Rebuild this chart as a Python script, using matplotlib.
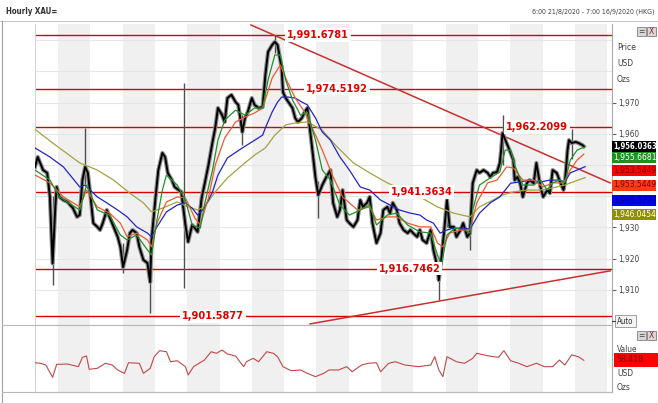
import matplotlib
matplotlib.use('Agg')
import matplotlib.pyplot as plt
from matplotlib.patches import Rectangle
from matplotlib import font_manager as fm
from matplotlib.textpath import TextPath
from matplotlib.font_manager import FontProperties

# ---------------- data (hours since 6:00 21/8/2020, price in USD) ----------------
close_hours = [0, 2, 6, 9, 11, 13, 15, 16, 18, 21, 24, 26, 28, 31, 33, 35, 37, 39, 41, 43, 46, 48, 50,
               53, 55, 58, 61, 63, 65, 68, 70, 72, 75, 77, 80, 83, 85, 86, 89, 91, 94, 96, 98, 101,
               103, 106, 108, 111, 113, 116, 118, 120, 123, 125, 128, 131, 133, 135, 138, 140, 142,
               145, 148, 150, 153, 155, 157, 160, 162, 165, 168, 170, 172, 175, 177, 179, 182, 183,
               185, 187, 190, 192, 194, 197, 199, 201, 204, 207, 209, 212, 215, 218, 220, 223, 225,
               227, 230, 232, 235, 238, 240, 242, 245, 247, 249, 252, 255, 257, 260, 262, 264, 267,
               269, 272, 275, 277, 279, 282, 284, 286, 289, 292, 294, 297, 298, 300, 302, 304, 306,
               309, 311, 314, 316, 319, 321, 323, 326, 328, 331, 334, 336, 338, 341, 343, 344, 345,
               348, 351, 353, 354, 356, 358, 360, 363, 365, 368, 370, 373, 375, 378, 380, 382, 385,
               387, 390, 391, 393, 394, 396, 399, 401, 404, 405]
close_prices = [1949.4, 1952.6, 1948.4, 1947.5, 1939.8, 1918.5, 1936.6, 1943.0, 1939.8, 1938.8, 1938.2,
                1937.2, 1936.2, 1933.4, 1934.0, 1945.2, 1949.4, 1947.5, 1939.8, 1931.4, 1930.2, 1929.2,
                1931.4, 1935.6, 1933.4, 1930.2, 1927.0, 1923.8, 1917.3, 1922.8, 1928.2, 1929.2, 1928.2,
                1923.8, 1919.6, 1918.6, 1912.5, 1926.0, 1939.8, 1948.4, 1953.9, 1952.6, 1947.5, 1945.2,
                1943.0, 1942.0, 1941.4, 1930.8, 1925.4, 1930.8, 1929.8, 1928.6, 1939.5, 1943.6, 1950.0,
                1957.4, 1961.9, 1968.3, 1966.1, 1963.8, 1971.5, 1972.5, 1970.2, 1969.3, 1960.6, 1965.1,
                1967.0, 1971.5, 1969.3, 1968.3, 1968.6, 1978.9, 1986.3, 1988.5, 1989.5, 1988.5, 1981.1,
                1973.4, 1971.5, 1970.2, 1968.3, 1965.1, 1963.8, 1965.1, 1967.0, 1968.3, 1957.4, 1945.9,
                1940.4, 1943.6, 1946.2, 1948.4, 1937.9, 1933.4, 1935.6, 1942.0, 1932.4, 1931.4, 1930.2,
                1932.4, 1938.8, 1936.6, 1937.9, 1939.8, 1931.4, 1925.0, 1928.2, 1935.6, 1936.6, 1934.6,
                1937.9, 1935.6, 1931.4, 1929.2, 1928.2, 1929.2, 1928.2, 1927.0, 1929.2, 1926.0, 1925.0,
                1929.2, 1922.8, 1917.3, 1913.1, 1920.5, 1929.2, 1938.8, 1930.2, 1930.2, 1927.0, 1929.2,
                1931.4, 1927.0, 1928.2, 1944.2, 1948.4, 1947.5, 1948.4, 1947.5, 1946.2, 1947.5, 1947.8,
                1950.7, 1954.8, 1960.3, 1957.1, 1953.9, 1951.6, 1945.2, 1946.2, 1944.2, 1939.8, 1944.2,
                1945.2, 1944.2, 1950.7, 1943.0, 1939.8, 1942.0, 1941.0, 1948.4, 1947.5, 1945.2, 1942.0,
                1944.2, 1954.8, 1958.0, 1957.1, 1957.4, 1957.1, 1956.4, 1956.0]

# isolated long wicks: hour, low, high
wick_hours = [13, 37, 65, 85, 110, 153, 177, 209, 298, 304, 321, 345, 396]
wick_lows = [1911.5, 1944.0, 1915.4, 1902.5, 1910.6, 1956.4, 1986.0, 1933.0, 1906.7, 1930.0, 1922.8, 1950.0, 1952.0]
wick_highs = [1940.0, 1961.9, 1925.0, 1920.0, 1976.3, 1966.0, 1991.7, 1945.0, 1920.0, 1941.0, 1930.0, 1966.0, 1961.5]

green_hours = [0, 11, 18, 33, 38, 46, 55, 63, 68, 75, 83, 86, 90, 94, 97, 105, 111, 116, 122, 125, 131,
               135, 140, 148, 155, 162, 168, 172, 177, 181, 185, 190, 196, 201, 207, 212, 218, 225, 232,
               240, 247, 252, 260, 267, 275, 284, 292, 297, 300, 304, 310, 317, 321, 323, 328, 336, 343,
               347, 351, 354, 360, 368, 373, 378, 382, 387, 391, 395, 400, 405]
green_vals = [1948.4, 1945.2, 1939.8, 1935.6, 1943.6, 1935.6, 1934.0, 1927.6, 1926.0, 1927.6, 1922.8,
              1921.2, 1932.4, 1942.0, 1946.8, 1943.6, 1938.8, 1930.8, 1929.8, 1937.2, 1948.4, 1958.0,
              1964.4, 1967.6, 1966.0, 1968.3, 1968.3, 1977.3, 1985.3, 1985.3, 1977.3, 1970.9, 1966.0,
              1967.0, 1958.0, 1948.4, 1945.2, 1937.2, 1934.0, 1935.6, 1937.2, 1930.8, 1934.0, 1934.6,
              1930.8, 1928.6, 1928.2, 1921.2, 1918.0, 1927.6, 1929.8, 1929.2, 1928.2, 1935.6, 1943.6,
              1945.9, 1947.8, 1954.8, 1954.8, 1950.0, 1943.6, 1943.6, 1945.2, 1942.0, 1944.3, 1945.2,
              1944.3, 1951.6, 1954.8, 1955.7]

orange_hours = [0, 11, 21, 33, 38, 46, 55, 63, 68, 75, 83, 86, 90, 97, 105, 111, 118, 122, 128, 133, 140,
                148, 155, 162, 168, 175, 181, 185, 192, 199, 207, 212, 220, 227, 238, 247, 252, 260, 267,
                275, 284, 292, 297, 301, 306, 314, 321, 326, 334, 341, 348, 353, 360, 368, 375, 382, 390,
                395, 400, 405]
orange_vals = [1946.8, 1944.3, 1939.8, 1936.6, 1942.0, 1936.6, 1934.6, 1931.4, 1927.0, 1928.2, 1926.0,
               1923.8, 1931.4, 1938.2, 1939.8, 1939.5, 1933.0, 1930.8, 1939.5, 1950.0, 1958.7, 1963.8,
               1965.4, 1966.7, 1968.3, 1977.9, 1982.1, 1977.9, 1971.5, 1967.0, 1959.6, 1954.8, 1946.2,
               1939.8, 1935.6, 1936.6, 1932.4, 1933.4, 1933.4, 1931.4, 1930.2, 1930.2, 1925.0, 1923.8,
               1928.2, 1929.2, 1929.2, 1937.9, 1944.3, 1945.2, 1949.4, 1949.1, 1945.2, 1945.2, 1943.0,
               1944.3, 1944.3, 1948.4, 1951.6, 1953.5]

blue_hours = [0, 11, 21, 33, 37, 39, 46, 53, 61, 68, 75, 83, 86, 90, 97, 105, 111, 116, 120, 125, 131,
              135, 142, 153, 160, 168, 170, 175, 179, 182, 187, 192, 197, 201, 207, 212, 218, 225, 232,
              240, 247, 255, 262, 269, 277, 284, 289, 294, 299, 304, 309, 316, 321, 328, 336, 343, 351,
              358, 365, 373, 380, 387, 391, 395, 400, 406]
blue_vals = [1955.5, 1952.6, 1949.4, 1943.0, 1943.6, 1942.7, 1939.8, 1937.9, 1935.6, 1933.4, 1930.2,
             1928.2, 1927.0, 1930.2, 1935.0, 1937.2, 1937.9, 1936.2, 1934.0, 1936.2, 1941.4, 1946.8,
             1952.3, 1955.5, 1957.4, 1959.6, 1961.9, 1967.0, 1970.2, 1971.8, 1971.8, 1971.5, 1970.2,
             1969.3, 1965.1, 1960.6, 1958.0, 1952.6, 1948.4, 1943.0, 1942.0, 1938.8, 1937.2, 1935.6,
             1934.6, 1934.0, 1932.4, 1931.4, 1928.2, 1929.2, 1929.8, 1929.8, 1929.5, 1934.6, 1937.9,
             1939.8, 1944.2, 1944.6, 1945.2, 1944.6, 1945.2, 1945.2, 1944.6, 1947.5, 1948.4, 1949.5]

olive_hours = [0, 13, 33, 46, 58, 70, 80, 86, 94, 105, 113, 120, 125, 133, 142, 153, 162, 170, 177, 185,
               192, 201, 212, 223, 235, 247, 260, 272, 284, 297, 309, 321, 328, 338, 345, 353, 363, 373,
               382, 391, 397, 406]
olive_vals = [1961.5, 1957.1, 1950.7, 1948.4, 1945.2, 1941.0, 1937.9, 1935.0, 1936.2, 1938.2, 1936.6,
              1935.6, 1936.6, 1941.4, 1945.9, 1950.0, 1953.2, 1955.5, 1959.6, 1962.9, 1963.5, 1963.8,
              1961.2, 1955.8, 1950.7, 1947.5, 1944.3, 1942.0, 1939.8, 1936.6, 1934.6, 1933.4, 1936.6,
              1938.8, 1940.4, 1941.4, 1942.0, 1942.0, 1942.7, 1943.6, 1944.6, 1946.0]

level_values = [1991.6781, 1974.5192, 1962.2099, 1941.3634, 1916.7462, 1901.5877]
level_label_hours = [186, 200, 347.6, 262.7, 253.9, 108.5]

trend_down_hours = [159.4, 424.4]
trend_down_prices = [1994.9, 1944.3]
trend_up_hours = [203, 424.4]
trend_up_prices = [1899.1, 1916.1]

rsi_hours = [0, 4, 8, 13, 16, 24, 32, 35, 38, 40, 46, 52, 57, 61, 66, 69, 77, 80, 85, 88, 92, 97, 100,
             105, 111, 113, 117, 125, 130, 134, 138, 142, 148, 154, 156, 161, 165, 171, 176, 179, 183,
             189, 196, 201, 207, 213, 217, 224, 230, 234, 241, 246, 252, 255, 261, 266, 273, 283, 292,
             295, 298, 301, 304, 311, 317, 323, 326, 335, 342, 346, 351, 357, 363, 370, 376, 382, 387,
             391, 396, 401, 405]
rsi_vals = [55.5, 54.8, 52.7, 37.8, 53.5, 53.9, 50.7, 62.0, 63.6, 47.5, 48.7, 54.8, 52.7, 46.7, 42.6,
            55.5, 54.8, 42.6, 48.7, 62.8, 70.1, 68.8, 56.7, 57.9, 50.7, 40.6, 50.7, 58.8, 68.8, 66.9,
            70.9, 66.1, 63.6, 50.7, 56.7, 60.8, 56.7, 68.8, 66.9, 62.8, 50.7, 45.8, 46.7, 42.6, 38.6,
            42.6, 46.7, 46.7, 50.7, 44.6, 52.7, 54.8, 55.5, 44.6, 54.8, 56.7, 52.7, 50.7, 52.7, 62.8,
            46.7, 38.6, 62.8, 56.7, 54.8, 60.8, 66.9, 63.6, 62.0, 70.1, 57.9, 54.8, 50.7, 54.8, 50.7,
            50.7, 58.8, 52.7, 65.0, 62.8, 58.4]

# visible price ticks (1,940 and 1,950 sit under the value boxes)
price_ticks = [1910, 1920, 1930, 1960, 1970]
value_labels = ['1,956.0363', '1,955.6681', '1,953.5449', '1,953.5449', '1,949.5297', '1,946.0454']
rsi_label = '58.418'

# ---------------- font selection: prefer a narrow face ----------------
_fonts = fm.fontManager.ttflist
_names = {f.name for f in _fonts}
if 'Liberation Sans Narrow' in _names:
    FP = dict(family=['Liberation Sans Narrow', 'DejaVu Sans'], stretch='normal')
elif any(f.name == 'DejaVu Sans' and f.stretch in ('condensed', 'semi-condensed', 600, 500)
         for f in _fonts):
    FP = dict(family=['DejaVu Sans'], stretch='condensed')
else:
    FP = dict(family=['Liberation Sans', 'DejaVu Sans'], stretch='normal')


def fit(text, target_px, weight='normal'):
    """font size (pt) that makes `text` about target_px wide"""
    prop = FontProperties(family=FP['family'], stretch=FP['stretch'], weight=weight)
    w = TextPath((0, 0), text, size=10, prop=prop).get_extents().width
    return 10 * target_px / (w * 100 / 72)


def T(x, y, s, target_px, weight='normal', **kw):
    return fig.text(x, y, s, family=FP['family'], stretch=FP['stretch'], weight=weight,
                    fontsize=fit(s, target_px, weight), **kw)


# ---------------- layout ----------------
W, H = 658, 403
fig = plt.figure(figsize=(W / 100, H / 100), dpi=100)
fig.patch.set_facecolor('white')


def fx(px):
    return px / W


def fy(py):
    return 1 - py / H


X0, X1 = 35, 612
P_TOP, P_BOT = 24, 325
R_TOP, R_BOT = 326, 392
XMAX = 425.8
DAY0, DAYLEN = 17.0, 23.84

ax = fig.add_axes([fx(X0), fy(P_BOT), fx(X1) - fx(X0), fy(P_TOP) - fy(P_BOT)])
ax2 = fig.add_axes([fx(X0), fy(R_BOT), fx(X1) - fx(X0), fy(R_TOP) - fy(R_BOT)])

for a in (ax, ax2):
    a.set_xlim(0, XMAX)
    for k in range(9):
        s = DAY0 + 2 * k * DAYLEN
        a.axvspan(s, s + DAYLEN, color='#f0f0f0', lw=0, zorder=0)
    a.set_xticks([])
    a.spines['top'].set_visible(False)
    a.spines['left'].set_color('#d6d6d6')
    a.spines['right'].set_color('#a8a8a8')
    a.spines['bottom'].set_color('#b8b8b8')

ax.set_ylim(1898.75, 1995.22)
for t in [1910, 1920, 1930, 1940, 1950, 1960, 1970, 1980, 1990]:
    ax.axhline(t, color='#e6e6e6', lw=0.8, zorder=0.5)

ax.yaxis.tick_right()
ax.set_yticks(price_ticks)
ax.set_yticklabels(['{:,.0f}'.format(v) for v in price_ticks], family=FP['family'],
                   stretch=FP['stretch'], fontsize=fit('1,970', 20), color='#404040')
ax.tick_params(axis='y', length=3, width=0.8, color='#606060', pad=1.5)

# level lines
lvl_size = fit('1,991.6781', 60, 'bold')
for v, h in zip(level_values, level_label_hours):
    ax.axhline(v, color='#d40000', lw=1.0, zorder=2)
    ax.text(h, v, '{:,.4f}'.format(v), color='#e00000', fontsize=lvl_size, family=FP['family'],
            stretch=FP['stretch'], weight='bold', va='center', ha='left', zorder=6,
            bbox=dict(facecolor='white', edgecolor='none', pad=1.2))

# trendlines
ax.plot(trend_down_hours, trend_down_prices, color='#c83030', lw=1.1, zorder=2.5)
ax.plot(trend_up_hours, trend_up_prices, color='#c83030', lw=1.1, zorder=2.5)

# price bars
ax.vlines(wick_hours, wick_lows, wick_highs, color='#505050', lw=1.0, zorder=3)
ax.plot(close_hours, close_prices, color='#8c8c8c', lw=3.0, zorder=3, solid_joinstyle='round')
ax.plot(close_hours, close_prices, color='#000000', lw=1.4, zorder=3.2)

# moving averages
ax.plot(olive_hours, olive_vals, color='#a3a340', lw=0.9, zorder=4)
ax.plot(blue_hours, blue_vals, color='#2424c8', lw=0.9, zorder=4)
ax.plot(orange_hours, orange_vals, color='#f05a30', lw=0.9, zorder=4)
ax.plot(green_hours, green_vals, color='#22922a', lw=0.9, zorder=4)

# lower panel
ax2.set_ylim(20, 100)
ax2.set_yticks([])
ax2.plot(rsi_hours, rsi_vals, color='#c24848', lw=0.8, zorder=3)

# ---------------- texts / decorations ----------------
T(fx(6), fy(12), 'Hourly XAU=', 50, weight='bold', color='#303030', va='center', ha='left')
T(fx(655), fy(12), '6:00 21/8/2020 - 7:00 16/9/2020 (HKG)', 124, color='#404040', va='center', ha='right')

# frame lines
fig.add_artist(plt.Line2D([fx(0), fx(658)], [fy(21), fy(21)], color='#c8c8c8', lw=0.8))
fig.add_artist(plt.Line2D([fx(2), fx(2)], [fy(21), fy(403)], color='#a0a0a0', lw=0.8))
fig.add_artist(plt.Line2D([fx(2), fx(X1)], [fy(P_BOT), fy(P_BOT)], color='#b8b8b8', lw=0.8))
fig.add_artist(plt.Line2D([fx(2), fx(X1)], [fy(R_BOT), fy(R_BOT)], color='#b8b8b8', lw=0.8))

for name, yy, wpx in (('Price', 47, 18), ('USD', 63, 15), ('Ozs', 80, 13)):
    T(fx(617), fy(yy), name, wpx, color='#404040', va='center')
for name, yy, wpx in (('Value', 349, 20), ('USD', 373, 15), ('Ozs', 387, 13)):
    T(fx(617), fy(yy), name, wpx, color='#404040', va='center')

# icons
for top in (27, 331):
    for i, x0 in enumerate((637, 647)):
        fig.add_artist(Rectangle((fx(x0), fy(top + 9)), 9 / W, 9 / H, facecolor='#d8d8d8',
                                 edgecolor='#808080', lw=0.6))
        fig.text(fx(x0 + 4.5), fy(top + 4.5), '=' if i == 0 else 'X', fontsize=5.5,
                 color='#404040' if i == 0 else '#a02020', ha='center', va='center')

# value boxes
box_style = [('#000000', 'white', 146.7), ('#1f8f1f', 'white', 157.7), ('#ff0000', '#7a0000', 170.8),
             ('#ff3a10', '#7a0000', 185.0), ('#0000ff', '#00007a', 200.5), ('#8f8f00', 'white', 214.3)]
for txt, (fc, tc, yc) in zip(value_labels, box_style):
    fig.add_artist(Rectangle((fx(612), fy(yc + 5.5)), 44 / W, 11 / H, facecolor=fc, edgecolor='none'))
    wt = 'bold' if fc == '#000000' else 'normal'
    T(fx(613), fy(yc), txt, 42, weight=wt, color=tc, va='center', ha='left')

fig.add_artist(Rectangle((fx(614), fy(353 + 14)), 44 / W, 14 / H, facecolor='#ff0000', edgecolor='none'))
T(fx(616), fy(360), rsi_label, 26, color='#7a0000', va='center', ha='left')

# Auto box
fig.add_artist(Rectangle((fx(615), fy(327)), 21 / W, 12 / H, facecolor='#f4f4f4', edgecolor='#909090',
                         lw=0.6))
T(fx(625.5), fy(321), 'Auto', 16, color='#303030', ha='center', va='center')
fig.add_artist(plt.Line2D([fx(612), fx(615)], [fy(321), fy(321)], color='#404040', lw=0.8))

fig.savefig('out.png', dpi=100)
